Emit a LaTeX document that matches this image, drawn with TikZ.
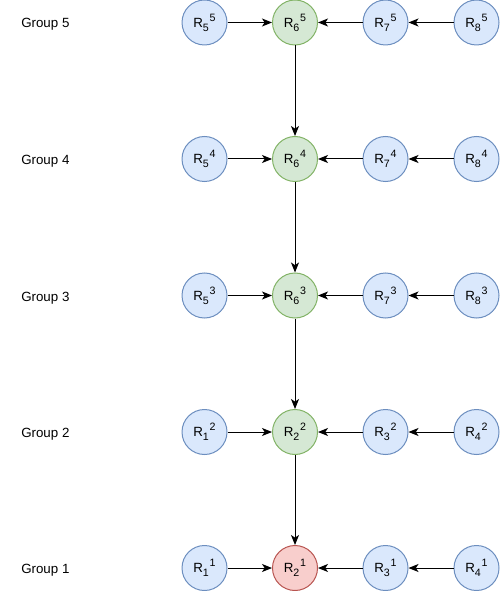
\documentclass[tikz,border=0pt]{standalone}
\usepackage{fontspec}
\setmainfont{Liberation Sans}
\usetikzlibrary{arrows.meta}
\definecolor{bfill}{HTML}{DAE8FC}\definecolor{bline}{HTML}{6C8EBF}
\definecolor{gfill}{HTML}{D5E8D4}\definecolor{gline}{HTML}{82B366}
\definecolor{rfill}{HTML}{F8CECC}\definecolor{rline}{HTML}{B85450}
\tikzset{
  rb/.style={circle,draw=bline,fill=bfill,minimum size=33.75pt,inner sep=0pt,line width=0.75pt,font=\fontsize{10pt}{12pt}\selectfont},
  rg/.style={rb,draw=gline,fill=gfill},
  rr/.style={rb,draw=rline,fill=rfill},
  grp/.style={anchor=base west,inner sep=0pt,font=\fontsize{10pt}{12pt}\selectfont},
  conn/.style={-{Stealth[length=7.5pt,width=6pt,inset=2pt]},line width=0.75pt,draw=black}
}
\newcommand{\Rl}[2]{R\raisebox{-3pt}{\fontsize{8pt}{9pt}\selectfont #1}\hspace{0.6pt}\raisebox{4.5pt}{\fontsize{8pt}{9pt}\selectfont #2}}
\begin{document}
\begin{tikzpicture}[x=0.75pt,y=-0.75pt]
\useasboundingbox (0,0) rectangle (500,591);
\foreach \g/\y/\a/\b/\c/\d in {5/22.5/5/6/7/8,4/159/5/6/7/8,3/295.5/5/6/7/8,2/432/1/2/3/4,1/568/1/2/3/4}{
  \node[grp] (g\g) at (21,\y+5.5) {Group \g};
  \node[rb] (a\g) at (204.5,\y) {\Rl{\a}{\g}};
  \ifnum\g=1
    \node[rr] (b\g) at (295,\y) {\Rl{\b}{\g}};
  \else
    \node[rg] (b\g) at (295,\y) {\Rl{\b}{\g}};
  \fi
  \node[rb] (c\g) at (385.5,\y) {\Rl{\c}{\g}};
  \node[rb] (d\g) at (476.5,\y) {\Rl{\d}{\g}};
  \draw[conn] (a\g) -- (b\g);
  \draw[conn] (c\g) -- (b\g);
  \draw[conn] (d\g) -- (c\g);
}
\draw[conn] (b5) -- (b4);
\draw[conn] (b4) -- (b3);
\draw[conn] (b3) -- (b2);
\draw[conn] (b2) -- (b1);
\end{tikzpicture}
\end{document}
